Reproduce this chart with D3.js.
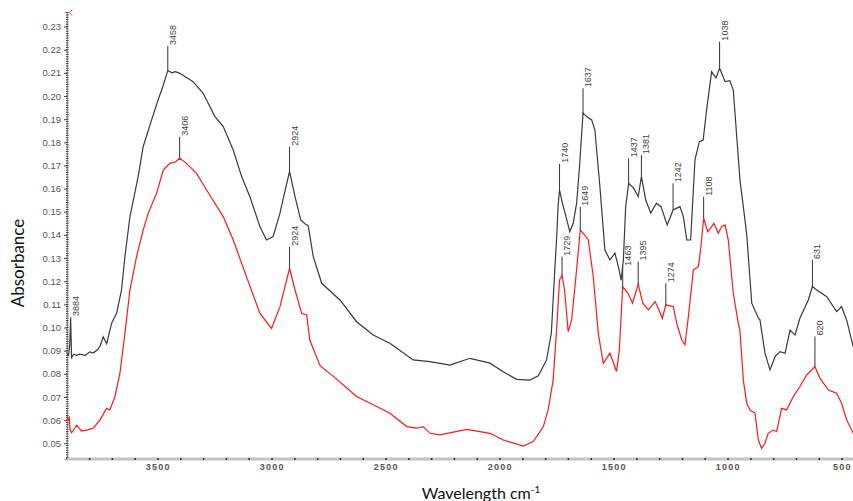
<!DOCTYPE html>
<html>
<head>
<meta charset="utf-8">
<script src="https://cdn.jsdelivr.net/npm/d3@7"></script>
<style>
  html, body { margin: 0; padding: 0; background: #fff; }
  svg { display: block; }
</style>
</head>
<body>
<svg id="chart" width="853" height="501"></svg>
<script>
// Upper (grey) spectrum
const upperWavenumber = [3900,3893,3888,3884,3880,3870,3858,3845,3820,3800,3785,3765,3755,3741,3726,3704,3682,3661,3646,3624,3588,3566,3529,3500,3480,3458,3440,3425,3405,3347,3303,3251,3215,3171,3134,3098,3054,3025,2996,2966,2944,2924,2900,2875,2855,2842,2820,2783,2703,2630,2557,2484,2382,2308,2221,2133,2045,1987,1928,1870,1833,1797,1776,1760,1752,1746,1740,1728,1712,1695,1680,1665,1652,1637,1620,1599,1585,1563,1541,1519,1497,1482,1470,1460,1450,1437,1415,1395,1381,1362,1340,1315,1295,1268,1242,1212,1197,1182,1165,1146,1127,1110,1095,1073,1054,1038,1014,993,978,949,934,919,897,868,861,839,817,795,773,751,729,707,686,649,631,612,568,525,503,481,452];
const upperAbsorbance = [0.0885,0.0880,0.0925,0.1040,0.0870,0.0885,0.0880,0.0885,0.0880,0.0895,0.0890,0.0905,0.0920,0.0960,0.0930,0.1020,0.1063,0.1162,0.1306,0.1479,0.1652,0.1781,0.1897,0.1985,0.2040,0.2110,0.2100,0.2105,0.2098,0.2062,0.2012,0.1911,0.1868,0.1767,0.1652,0.1565,0.1436,0.1378,0.1393,0.1494,0.1590,0.1674,0.1565,0.1465,0.1447,0.1439,0.1306,0.1191,0.1119,0.1025,0.0968,0.0932,0.0860,0.0853,0.0838,0.0867,0.0846,0.0809,0.0776,0.0773,0.0791,0.0860,0.0975,0.1263,0.1400,0.1530,0.1594,0.1540,0.1480,0.1414,0.1450,0.1537,0.1700,0.1926,0.1910,0.1897,0.1853,0.1609,0.1335,0.1292,0.1321,0.1263,0.1205,0.1292,0.1522,0.1623,0.1602,0.1565,0.1652,0.1551,0.1494,0.1537,0.1522,0.1443,0.1508,0.1522,0.1479,0.1378,0.1378,0.1724,0.1803,0.1810,0.1940,0.2105,0.2078,0.2120,0.2062,0.2066,0.2026,0.1640,0.1522,0.1400,0.1105,0.1040,0.1033,0.0889,0.0817,0.0874,0.0896,0.0889,0.0989,0.0968,0.1040,0.1119,0.1177,0.1162,0.1133,0.1069,0.1090,0.1033,0.0917];

// Lower (red) spectrum
const lowerWavenumber = [3900,3895,3890,3887,3880,3873,3858,3836,3810,3785,3755,3726,3712,3690,3668,3646,3624,3595,3566,3544,3507,3478,3449,3425,3406,3376,3332,3288,3215,3171,3113,3054,3003,2966,2944,2924,2900,2871,2849,2835,2790,2732,2630,2557,2484,2410,2367,2338,2308,2264,2147,2045,1987,1899,1855,1811,1790,1768,1752,1740,1729,1718,1702,1687,1670,1649,1630,1614,1592,1570,1548,1519,1490,1478,1463,1440,1420,1395,1375,1350,1321,1307,1289,1274,1241,1226,1204,1190,1175,1153,1131,1120,1108,1090,1077,1063,1044,1029,1014,1000,978,956,949,934,919,905,883,868,854,839,825,803,788,766,744,715,686,656,620,598,561,525,503,481,452];
const lowerAbsorbance = [0.0620,0.0600,0.0610,0.0560,0.0545,0.0555,0.0578,0.0553,0.0558,0.0565,0.0601,0.0651,0.0644,0.0701,0.0802,0.0975,0.1162,0.1306,0.1421,0.1493,0.1580,0.1680,0.1709,0.1715,0.1731,0.1709,0.1666,0.1594,0.1479,0.1378,0.1220,0.1061,0.0996,0.1090,0.1177,0.1256,0.1162,0.1061,0.1054,0.0945,0.0835,0.0789,0.0702,0.0666,0.0630,0.0572,0.0565,0.0572,0.0543,0.0536,0.0560,0.0543,0.0514,0.0488,0.0507,0.0572,0.0644,0.0773,0.1004,0.1205,0.1225,0.1162,0.0982,0.1032,0.1200,0.1421,0.1400,0.1378,0.1220,0.0975,0.0845,0.0889,0.0810,0.0900,0.1177,0.1148,0.1105,0.1188,0.1105,0.1076,0.1112,0.1083,0.1040,0.1098,0.1090,0.1018,0.0946,0.0925,0.1047,0.1249,0.1263,0.1349,0.1472,0.1414,0.1430,0.1450,0.1407,0.1436,0.1443,0.1378,0.1148,0.1018,0.0990,0.0773,0.0673,0.0644,0.0630,0.0514,0.0478,0.0500,0.0543,0.0557,0.0550,0.0651,0.0644,0.0701,0.0745,0.0795,0.0831,0.0781,0.0730,0.0716,0.0673,0.0601,0.0543];

// Peak annotations: label, and absorbance where the leader line ends
const upperPeaks = [3884, 3458, 2924, 1740, 1637, 1437, 1381, 1242, 1038, 631];
const upperPeakTop = [0.1045, 0.2216, 0.1781, 0.1707, 0.2034, 0.1731, 0.1745, 0.1623, 0.2235, 0.1292];
const lowerPeaks = [3406, 2924, 1729, 1649, 1463, 1395, 1274, 1108, 620];
const lowerPeakTop = [0.1824, 0.1349, 0.1306, 0.1522, 0.1263, 0.1285, 0.1191, 0.1565, 0.0961];

// Axis ticks
const xTickValues = [3500, 3000, 2500, 2000, 1500, 1000, 500];
const yTickValues = [0.05, 0.06, 0.07, 0.08, 0.09, 0.10, 0.11, 0.12, 0.13, 0.14, 0.15, 0.16, 0.17, 0.18, 0.19, 0.20, 0.21, 0.22, 0.23];

const svg = d3.select("#chart");
const plotLeft = 67, plotRight = 853, plotTop = 12, plotBottom = 459;

const x = d3.scaleLinear().domain([3900, 453]).range([plotLeft, plotRight]);
const y = d3.scaleLinear().domain([0.0432, 0.2363]).range([plotBottom, plotTop]);

svg.append("defs").append("clipPath").attr("id", "plot")
  .append("rect").attr("x", plotLeft).attr("y", 0).attr("width", plotRight - plotLeft).attr("height", plotBottom);

// X axis: thick grey baseline with small dot ticks
svg.append("line")
  .attr("x1", plotLeft).attr("x2", plotRight).attr("y1", plotBottom).attr("y2", plotBottom)
  .attr("stroke", "#c4c4c4").attr("stroke-width", 3);

const xMinor = d3.range(500, 3901, 100);
svg.append("g").selectAll("rect").data(xMinor).join("rect")
  .attr("x", d => x(d) - 1).attr("y", plotBottom - 1).attr("width", 1.6).attr("height", 2)
  .attr("fill", "#333");

svg.append("g").selectAll("text").data(xTickValues).join("text")
  .attr("x", d => x(d)).attr("y", plotBottom + 11)
  .attr("text-anchor", "middle")
  .attr("font-family", "Liberation Sans, Arial, sans-serif")
  .attr("font-size", 9).attr("font-weight", "bold").attr("letter-spacing", 1.2)
  .attr("fill", "#555")
  .text(d => d);

// Y axis: major ticks with labels, dense minor ticks
const yAxis = d3.axisLeft(y).tickValues(yTickValues).tickFormat(d3.format(".2f")).tickSize(3).tickPadding(3);
const gy = svg.append("g").attr("transform", `translate(${plotLeft},0)`).call(yAxis);
gy.select(".domain").attr("stroke", "#bbb");
gy.selectAll(".tick line").attr("stroke", "#444");
gy.selectAll(".tick text")
  .attr("font-family", "Liberation Sans, Arial, sans-serif")
  .attr("font-size", 9.5).attr("fill", "#555");

const yMinor = d3.range(0.044, 0.2362, 0.001);
svg.append("g").selectAll("line").data(yMinor).join("line")
  .attr("x1", plotLeft - 1).attr("x2", plotLeft + 1.5)
  .attr("y1", d => y(d)).attr("y2", d => y(d))
  .attr("stroke", "#333").attr("stroke-width", 1);

// small red marker at the top of the y axis
svg.append("path")
  .attr("d", "M72,9.5 L69.5,12.5 L72,15.5")
  .attr("fill", "none").attr("stroke", "#e04040").attr("stroke-width", 1);

// Spectra
const upper = upperWavenumber.map((w, i) => [w, upperAbsorbance[i]]);
const lower = lowerWavenumber.map((w, i) => [w, lowerAbsorbance[i]]);
const line = d3.line().x(d => x(d[0])).y(d => y(d[1]));

const plot = svg.append("g").attr("clip-path", "url(#plot)");
plot.append("path").datum(lower).attr("d", line)
  .attr("fill", "none").attr("stroke", "#ff1a1a").attr("stroke-width", 1.2);
plot.append("path").datum(upper).attr("d", line)
  .attr("fill", "none").attr("stroke", "#3a3a3a").attr("stroke-width", 1.2);

// absorbance of a spectrum at a given wavenumber (linear between samples)
function valueAt(series, w) {
  for (let i = 0; i < series.length - 1; i++) {
    const a = series[i], b = series[i + 1];
    if (w <= a[0] && w >= b[0]) {
      const t = (a[0] - w) / (a[0] - b[0]);
      return a[1] + t * (b[1] - a[1]);
    }
  }
  return series[series.length - 1][1];
}

function drawPeaks(peaks, tops, series) {
  const g = svg.append("g");
  peaks.forEach((p, i) => {
    const px = x(p);
    const y0 = y(valueAt(series, p));
    const y1 = y(tops[i]);
    g.append("line").attr("x1", px).attr("x2", px).attr("y1", y0).attr("y2", y1)
      .attr("stroke", "#333").attr("stroke-width", 1);
    g.append("text")
      .attr("transform", `translate(${px + 5},${y1 - 1}) rotate(-90)`)
      .attr("dominant-baseline", "central")
      .attr("font-family", "Liberation Sans, Arial, sans-serif")
      .attr("font-size", 9).attr("fill", "#444")
      .text(p);
  });
}
drawPeaks(upperPeaks, upperPeakTop, upper);
drawPeaks(lowerPeaks, lowerPeakTop, lower);

// Axis titles
svg.append("text")
  .attr("transform", "translate(24,263) rotate(-90)")
  .attr("text-anchor", "middle")
  .attr("font-family", "Lato, sans-serif").attr("font-size", 17).attr("fill", "#111")
  .text("Absorbance");

const xt = svg.append("text")
  .attr("x", 481).attr("y", 499)
  .attr("text-anchor", "middle")
  .attr("font-family", "Lato, sans-serif").attr("font-size", 16).attr("fill", "#111");
xt.append("tspan").text("Wavelength cm");
xt.append("tspan").attr("dy", -6).attr("font-size", 10).text("-1");
</script>
</body>
</html>
